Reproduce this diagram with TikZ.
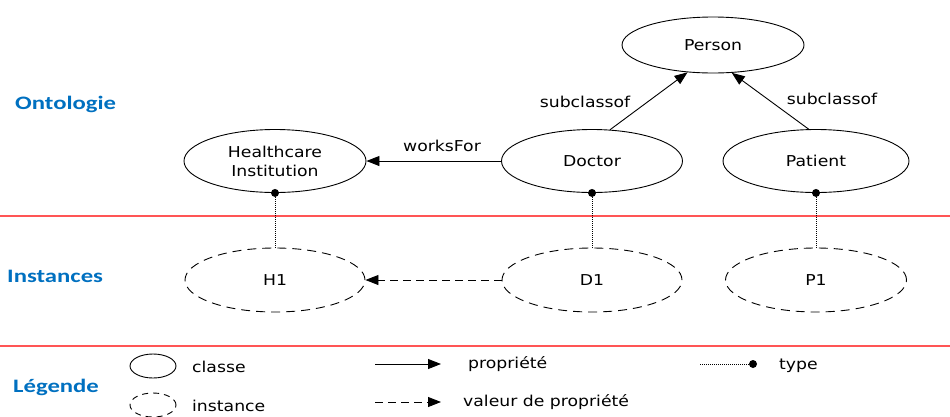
\documentclass[tikz,border=0pt]{standalone}
\usepackage{fontspec}
\usetikzlibrary{shapes.geometric,arrows.meta}
\newfontfamily\nf[FakeStretch=1.15]{DejaVu Sans}
\newfontfamily\hf[FakeStretch=1.3]{Carlito}
\definecolor{headblue}{RGB}{0,112,192}
\definecolor{sepred}{RGB}{255,85,85}
\tikzset{
  cls/.style={ellipse, draw, line width=0.9pt, inner sep=0pt, font=\nf\fontsize{15}{19}\selectfont, align=center},
  inst/.style={cls, dash pattern=on 9pt off 6pt},
  prop/.style={-{Triangle[length=13pt,width=10pt]}, line width=0.9pt},
  propval/.style={prop, dash pattern=on 8pt off 5pt},
  typeln/.style={line width=0.9pt, dash pattern=on 1pt off 1pt},
  tdot/.style={circle, fill=black, inner sep=0pt, minimum size=8pt},
  lbl/.style={font=\nf\fontsize{15}{18}\selectfont, inner sep=0pt},
  head/.style={font=\hf\bfseries\fontsize{19}{22}\selectfont, text=headblue, anchor=west, inner sep=0pt},
  sep/.style={draw=sepred, line width=1.5pt}
}
\begin{document}
\begin{tikzpicture}[x=1pt,y=-1pt]
\useasboundingbox (0,0) rectangle (950,416);
% separators
\coordinate (s1a) at (0,216); \coordinate (s1b) at (950,216);
\coordinate (s2a) at (0,346); \coordinate (s2b) at (950,346);
\draw[sep] (s1a) -- (s1b);
\draw[sep] (s2a) -- (s2b);
% headings
\node[head] (hOnt) at (15,104) {Ontologie};
\node[head] (hInst) at (7,276) {Instances};
\node[head] (hLeg) at (13,387) {Légende};
% classes
\node[cls, minimum width=182pt, minimum height=56pt] (person) at (713,45) {Person};
\node[cls, minimum width=182pt, minimum height=63pt] (hc) at (275,161) {Healthcare\\Institution};
\node[cls, minimum width=181pt, minimum height=63pt] (doctor) at (592,161) {Doctor};
\node[cls, minimum width=186pt, minimum height=63pt] (patient) at (816,161) {Patient};
% instances
\node[inst, minimum width=180pt, minimum height=64pt] (h1) at (275,280) {H1};
\node[inst, minimum width=180pt, minimum height=64pt] (d1) at (592,280) {D1};
\node[inst, minimum width=181pt, minimum height=64pt] (p1) at (816,280) {P1};
% property edges
\draw[prop] (doctor.west) -- (hc.east);
\node[lbl] (lwf) at (442,146) {worksFor};
\draw[prop] (doctor.60) -- (person.227);
\draw[prop] (patient.103) -- (person.304);
\node[lbl] (lsc1) at (585,102) {subclassof};
\node[lbl] (lsc2) at (832,99) {subclassof};
% instance edges
\draw[propval] (d1.west) -- (h1.east);
% type edges
\draw[typeln] (h1.north) -- (hc.south);
\draw[typeln] (d1.north) -- (doctor.south);
\draw[typeln] (p1.north) -- (patient.south);
\node[tdot] (dh) at (hc.south) {};
\node[tdot] (dd) at (doctor.south) {};
\node[tdot] (dp) at (patient.south) {};
% legend
\node[cls, minimum width=46pt, minimum height=24pt] (lgc) at (153,366) {};
\node[inst, dash pattern=on 6pt off 5pt, minimum width=46pt, minimum height=24pt] (lgi) at (153,405) {};
\node[lbl, anchor=west] (tcl) at (192,367) {classe};
\node[lbl, anchor=west] (tin) at (192,406) {instance};
\coordinate (pa) at (375,364); \coordinate (pb) at (441,364);
\draw[prop] (pa) -- (pb);
\node[lbl, anchor=west] (tpr) at (468,364) {propriété};
\coordinate (va) at (375,402); \coordinate (vb) at (441,402);
\draw[propval] (va) -- (vb);
\node[lbl, anchor=west] (tvp) at (463,402) {valeur de propriété};
\coordinate (ta) at (700,364);
\node[tdot] (tb) at (753,364) {};
\draw[typeln] (ta) -- (tb);
\node[lbl, anchor=west] (tty) at (779,366) {type};
\end{tikzpicture}
\end{document}
